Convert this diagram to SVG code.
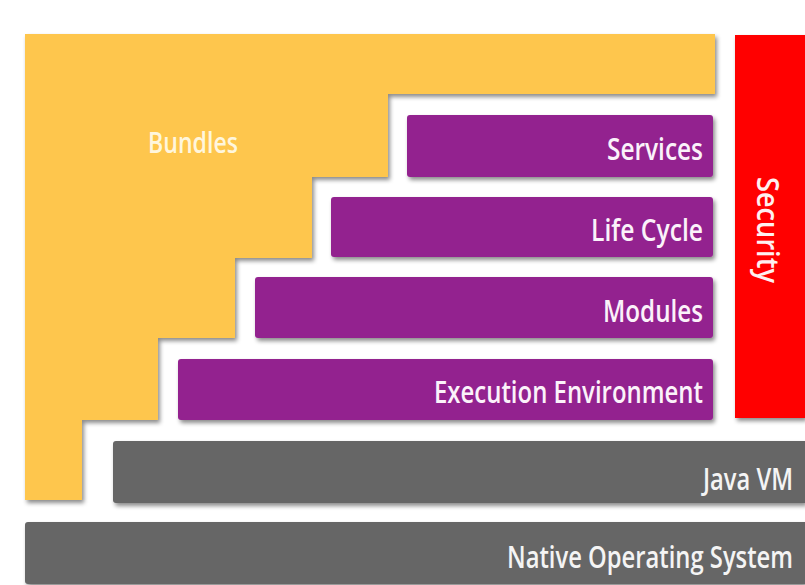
<svg xmlns="http://www.w3.org/2000/svg" width="805" height="585" viewBox="0 0 805 585">
<defs>
<filter id="sh" x="-5%" y="-5%" width="115%" height="125%">
<feDropShadow dx="2" dy="3" stdDeviation="2" flood-color="#000" flood-opacity="0.45"/>
</filter>
<style>
.bun{fill:#FEC64E;filter:url(#sh)}
.pur{fill:#93228F;filter:url(#sh)}
.gry{fill:#666666;filter:url(#sh)}
.red{fill:#FF0000;filter:url(#sh)}
.t{font-family:"Open Sans","Liberation Sans",Arial,sans-serif;font-weight:600;font-size:31px;fill:#FBF2FA;text-anchor:end}
</style>
</defs>
<rect width="805" height="585" fill="#FFFFFF"/>
<g id="bundles">
<polygon class="bun" points="25,34 715,34 715,94 388,94 388,177 312,177 312,258 235,258 235,338 158,338 158,420 82,420 82,500 25,500"/>
<text class="t" x="238" y="153" textLength="90" lengthAdjust="spacingAndGlyphs" style="fill:#FFF6DD;font-size:29px">Bundles</text>
</g>
<g id="services">
<rect class="pur" x="407" y="115" width="306" height="62" rx="3"/>
<text class="t" x="703" y="160" textLength="96" lengthAdjust="spacingAndGlyphs">Services</text>
</g>
<g id="lifecycle">
<rect class="pur" x="331" y="197" width="382" height="60" rx="3"/>
<text class="t" x="703" y="241" textLength="112" lengthAdjust="spacingAndGlyphs">Life Cycle</text>
</g>
<g id="modules">
<rect class="pur" x="255" y="277" width="458" height="61" rx="3"/>
<text class="t" x="703" y="322" textLength="100" lengthAdjust="spacingAndGlyphs">Modules</text>
</g>
<g id="execution">
<rect class="pur" x="178" y="359" width="535" height="61" rx="3"/>
<text class="t" x="703" y="403" textLength="269" lengthAdjust="spacingAndGlyphs">Execution Environment</text>
</g>
<g id="security">
<rect class="red" x="735" y="35" width="70" height="383"/>
<text class="t" transform="translate(757,230) rotate(90)" style="text-anchor:middle;fill:#FFF0F0" textLength="106" lengthAdjust="spacingAndGlyphs">Security</text>
</g>
<g id="javavm">
<path class="gry" d="M116,441 H805 V503 H116 Q113,503 113,500 V444 Q113,441 116,441 Z"/>
<text class="t" x="793" y="490" textLength="90" lengthAdjust="spacingAndGlyphs" style="fill:#F4F4F4;font-size:30px">Java VM</text>
</g>
<g id="nativeos">
<path class="gry" d="M28,522 H805 V584 H28 Q25,584 25,581 V525 Q25,522 28,522 Z"/>
<text class="t" x="793" y="568" textLength="286" lengthAdjust="spacingAndGlyphs" style="fill:#F4F4F4;font-size:30px">Native Operating System</text>
</g>
<g id="connectors"></g>
</svg>
